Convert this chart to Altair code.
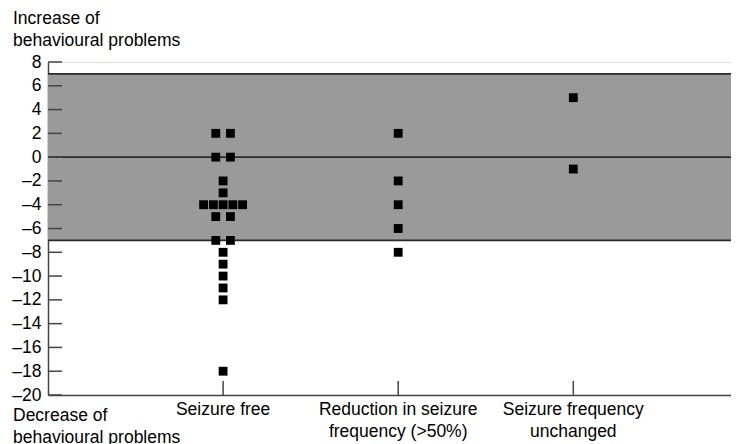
import altair as alt
import pandas as pd

# ---- data ----
categories = ["Seizure free", "Reduction in seizure\nfrequency (>50%)", "Seizure frequency\nunchanged"]
seizure_free = [2, 2, 0, 0, -2, -3, -4, -4, -4, -4, -4, -5, -5, -7, -7, -8, -9, -10, -11, -12, -18]
reduction = [2, -2, -4, -6, -8]
unchanged = [5, -1]
y_ticks = list(range(-20, 9, 2))
band_limits = [-7, 7]
ref_lines = [7, 0, -7]
top_note = "Increase of\nbehavioural problems"
bottom_note = "Decrease of\nbehavioural problems"

W, H = 683, 333
XMAX = 683 / 175.1
STEP_PX = 9.75
FONT = "Liberation Sans"
FS = 17.5

# ---- build tables ----
rows = []
for ci, vals in enumerate([seizure_free, reduction, unchanged]):
    counts = pd.Series(vals).value_counts().to_dict()
    seen = {}
    for v in vals:
        n = counts[v]
        i = seen.get(v, 0)
        seen[v] = i + 1
        step = 1.5 if n == 2 else 1.0
        rows.append({"cat": categories[ci], "pos": ci + 1, "value": v,
                     "slot": (i - (n - 1) / 2) * step})
pts = pd.DataFrame(rows)
cats = pd.DataFrame({"cat": categories, "pos": [i + 1 for i in range(len(categories))]})
band = pd.DataFrame({"lo": [band_limits[0]], "hi": [band_limits[1]]})
lines = pd.DataFrame({"y": ref_lines})
ticks = pd.DataFrame({"y": y_ticks})

xscale = alt.Scale(domain=[0, XMAX], nice=False, zero=False)
yscale = alt.Scale(domain=[-20, 8], nice=False, zero=False)
unit_per_px = XMAX / W

yaxis = alt.Axis(
    values=y_ticks, title=None, ticks=False, grid=False, labelPadding=7,
    labelFontSize=FS, labelFont=FONT, labelColor="black",
    labelOverlap=False, labelBound=False, labelFlush=False,
    labelExpr="datum.value < 0 ? '\u2013' + format(-datum.value, 'd') : format(datum.value, 'd')",
    domainColor="#444", domainWidth=1.5,
)
xaxis = alt.Axis(labels=False, ticks=False, grid=False, title=None,
                 domainColor="#444", domainWidth=1.5)

band_layer = alt.Chart(band).mark_rect(color="#9a9a9a").encode(
    x=alt.value(0), x2=alt.value(W),
    y=alt.Y("lo:Q", scale=yscale, axis=yaxis),
    y2="hi:Q",
)

line_layer = alt.Chart(lines).mark_rule(color="#2a2a2a", strokeWidth=1.8).encode(
    x=alt.value(0), x2=alt.value(W), y=alt.Y("y:Q", scale=yscale, axis=yaxis),
)

ytick_layer = alt.Chart(ticks).mark_rule(color="#444", strokeWidth=1.5).encode(
    x=alt.value(0), x2=alt.value(14), y=alt.Y("y:Q", scale=yscale, axis=yaxis),
)

xtick_layer = alt.Chart(cats).mark_rule(color="#444", strokeWidth=1.5).encode(
    x=alt.X("pos:Q", scale=xscale, axis=xaxis),
    y=alt.value(H), y2=alt.value(H - 14),
)

point_layer = alt.Chart(pts).transform_calculate(
    xpos=f"datum.pos + datum.slot * {STEP_PX * unit_per_px}"
).mark_square(size=78, color="black", opacity=1).encode(
    x=alt.X("xpos:Q", scale=xscale, axis=xaxis),
    y=alt.Y("value:Q", scale=yscale, axis=yaxis),
)

xlabel_layer = alt.Chart(cats).mark_text(
    font=FONT, fontSize=FS, color="black", align="center", baseline="top",
    lineBreak="\n", lineHeight=22,
).encode(
    x=alt.X("pos:Q", scale=xscale, axis=xaxis), y=alt.value(H + 6), text="cat:N",
)

top_text = alt.Chart(pd.DataFrame({"t": [top_note]})).mark_text(
    font=FONT, fontSize=FS, color="black", align="left", baseline="top",
    lineBreak="\n", lineHeight=22,
).encode(x=alt.value(-35), y=alt.value(-52), text="t:N")

bottom_text = alt.Chart(pd.DataFrame({"t": [bottom_note]})).mark_text(
    font=FONT, fontSize=FS, color="black", align="left", baseline="top",
    lineBreak="\n", lineHeight=22,
).encode(x=alt.value(-35), y=alt.value(H + 12), text="t:N")

chart = alt.layer(
    band_layer, line_layer, ytick_layer, xtick_layer, point_layer,
    xlabel_layer, top_text, bottom_text,
).properties(
    width=W, height=H,
    autosize=alt.AutoSizeParams(type="none"),
    padding={"left": 40, "top": 54, "right": 0, "bottom": 49},
).configure_view(stroke=None).configure(font=FONT)

chart.save("out.html", embed_options={"renderer": "svg", "actions": False})
